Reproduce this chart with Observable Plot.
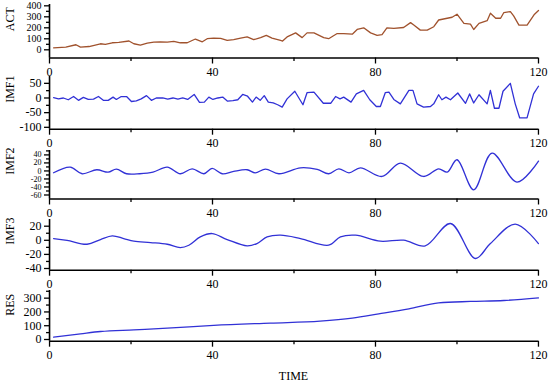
<!DOCTYPE html>
<html>
<head>
<meta charset="utf-8">
<script src="https://cdn.jsdelivr.net/npm/d3@7"></script>
<script src="https://cdn.jsdelivr.net/npm/@observablehq/plot@0.6"></script>
<style>
  html, body { margin: 0; padding: 0; background: white; }
  #wrap { position: relative; width: 550px; height: 382px; overflow: hidden; background: white; font-family: "Liberation Serif", "Times New Roman", serif; }
  #wrap svg { position: absolute; left: 0; }
  #xlabel { position: absolute; left: 0; width: 587px; text-align: center; top: 369px; font-size: 12px; line-height: 14px; }
</style>
</head>
<body>
<div id="wrap"><div id="xlabel">TIME</div></div>
<script>
// ---- data ----
const actT = [1,4,6.5,7.6,9.7,12.5,13.7,15.4,17,19.5,20.7,22.3,24,25.6,27.2,28.9,30.5,32.1,33.8,35.8,37.5,38.7,40.3,42,43.6,45.2,46.9,48.5,50.1,51.8,53.2,54.6,56.7,57.2,58.3,60.4,62,63.2,64.9,67.3,68.5,70.6,72.2,74.3,75.5,77.1,78.8,80.4,81.6,82.8,84.5,86.9,88.6,89.4,91,92.7,94.3,95.5,97.6,98.8,100,101.7,103.3,104.1,105.4,107.4,108.2,109.5,110.7,111.5,113.1,113.9,115.2,117.2,118.9,120];
const actV = [18,24,46,24,30,55,49,64,67,80,55,43,61,70,73,70,77,64,64,98,73,101,107,104,85,92,107,117,92,111,132,107,85,80,117,154,111,154,154,111,101,148,148,142,185,200,154,132,138,200,194,203,247,225,179,179,210,271,287,296,324,240,234,185,240,265,333,287,287,339,348,308,225,225,318,358];

const imf1T = [1,2.2,3.4,4.6,5.9,7.1,8.3,9.5,10.8,12,13.2,14.4,15.6,16.4,17.6,18.9,20.1,21.3,22.5,23.8,25,26.2,27.8,29,30.3,31.5,32.7,33.9,35.5,36.8,38,39.1,40.1,41.3,42.5,43.7,45,46.2,47.4,48.6,49.8,50.7,51.7,52.7,53.7,54.9,56,57.1,58.3,60.2,62.2,63.2,64.9,67.2,69,70.2,71.3,72.2,74,75.3,77.1,78.6,80.2,81.2,82.4,83.3,84.5,86.1,88.2,89.2,90.2,91.8,93.5,94.3,95.5,96.3,97.3,98.4,100.2,102.1,103.1,104.1,105.4,107.4,108.2,109.2,110.3,111.3,113.1,114.3,115.4,117.2,118.8,120];
const imf1V = [1,-3,0,-6,5,-8,2,-5,-4,5,-8,-8,3,-5,5,5,-12,-10,-3,8,-8,0,0,-4,0,-4,0,-5,12,-15,-14,3,-5,0,3,-11,-9,-6,12,6,-14,3,-8,8,-14,-17,-23,-31,-3,23,-23,18,20,-18,-18,5,-3,3,-14,14,26,-6,-29,-29,18,20,-5,-20,26,26,-20,-31,-29,-20,11,-6,3,-6,17,-18,14,-17,11,-20,26,-35,-35,23,50,-20,-68,-68,14,40];

const imf2T = [1,5.1,8,11.6,14.4,16.4,18.9,22.1,25.4,28.9,32.1,35,37.9,39.9,42.4,45.2,48.5,50.5,53,56.3,61.6,65.7,68.5,71,73.5,76.3,81.6,86.1,91.8,95.5,97.6,100,104.1,108.6,114.7,120];
const imf2V = [-4.6,9.6,-7,3,-3,4.6,-7,-7,-3,9.6,-7,5.4,-7,6.2,-7,-1,3,-4.6,4.6,-7,7.9,3.8,-7,5.4,-4.6,7.9,-13.8,19.6,-13.8,5.4,-3,27.9,-47,44.6,-27.9,24.6];

const imf3T = [1,4.3,9.2,12.5,15.4,18.2,20.7,24.8,28.9,32.1,34.2,37,39.9,43.6,48.5,50.9,53.4,56.7,61.6,68.5,71.4,75.1,81.2,86.9,92.2,98.4,104.5,108.2,114.3,120];
const imf3V = [2.5,0,-5.6,1.1,6.3,2.5,-1.3,-3.2,-5.6,-10.3,-7,4.8,9.6,1.1,-7.9,-4.6,4.8,7.2,2.5,-7,4.8,7.2,-1.3,0.2,-7.9,23.8,-25.8,-4.6,22.9,-4.6];

const resT = [1,7.6,12.5,20.7,28.9,40.3,54.2,66.4,74.3,80.8,88.2,95.5,103.3,111.5,120];
const resV = [17,41,58,70,82,102,119,133,155,186,223,266,276,283,302];

const xMajor = [0,40,80,120];
const xMinor = [20,60,100];

// ---- panels ----
const FONT = "'Liberation Serif', 'Times New Roman', serif";
const BLUE = "#3131d6";
const BROWN = "#a0522d";

const panels = [
  {label: "ACT",  T: actT,  V: actV,  color: BROWN, curve: "linear",     top: 4,     axis: 57.5,  domain: [-74.5, 412],  major: [0,100,200,300,400], minor: [50,150,250,350], fs: 10},
  {label: "IMF1", T: imf1T, V: imf1V, color: BLUE,  curve: "linear",     top: 76,    axis: 128.7, domain: [-106.4, 73.3], major: [50,0,-50,-100], minor: [25,-25,-75], fs: 12},
  {label: "IMF2", T: imf2T, V: imf2V, color: BLUE,  curve: "catmull-rom", top: 150,  axis: 198.5, domain: [-70, 51],     major: [40,20,0,-20,-40,-60], minor: [50,30,10,-10,-30,-50], fs: 8},
  {label: "IMF3", T: imf3T, V: imf3V, color: BLUE,  curve: "catmull-rom", top: 219.3, axis: 270,  domain: [-42.4, 29.5], major: [20,0,-20,-40], minor: [10,-10,-30], fs: 12},
  {label: "RES",  T: resT,  V: resV,  color: BLUE,  curve: "monotone-x", top: 290,   axis: 340.7, domain: [-12.3, 355.6], major: [0,100,200,300], minor: [50,150,250,350], fs: 12}
];

const wrap = document.getElementById("wrap");
const MT = 4, MB = 22;

for (const p of panels) {
  const data = p.T.map((t, i) => ({t, v: p.V[i]}));
  const h = p.axis - p.top + MT + MB;
  const svg = Plot.plot({
    width: 550,
    height: h,
    marginLeft: 49,
    marginRight: 12,
    marginTop: MT,
    marginBottom: MB,
    style: {background: "transparent", overflow: "visible", fontFamily: FONT, fontSize: "12px", color: "black"},
    x: {domain: [0, 120]},
    y: {domain: p.domain},
    marks: [
      Plot.axisX({ticks: xMajor, tickSize: 6, tickPadding: 3.5, tickFormat: d => String(d), label: null, strokeWidth: 1.3, fontSize: 12}),
      Plot.axisX({ticks: xMinor, tickSize: 3.5, tickFormat: () => "", label: null, strokeWidth: 1.3}),
      Plot.axisY({ticks: p.major, tickSize: 5, tickPadding: 3, tickFormat: d => String(d), label: null, strokeWidth: 1.3, fontSize: p.fs}),
      Plot.axisY({ticks: p.minor, tickSize: 3, tickFormat: () => "", label: null, strokeWidth: 1.3}),
      Plot.ruleX([0], {stroke: "black", strokeWidth: 1.6}),
      Plot.ruleY([p.domain[0]], {stroke: "black", strokeWidth: 1.6}),
      Plot.text([p.label], {frameAnchor: "left", dx: -39, rotate: -90, fontSize: 12, fill: "black"}),
      Plot.line(data, {x: "t", y: "v", stroke: p.color, strokeWidth: 1.3, curve: p.curve})
    ]
  });
  svg.style.top = (p.top - MT) + "px";
  wrap.appendChild(svg);
}
</script>
</body>
</html>
